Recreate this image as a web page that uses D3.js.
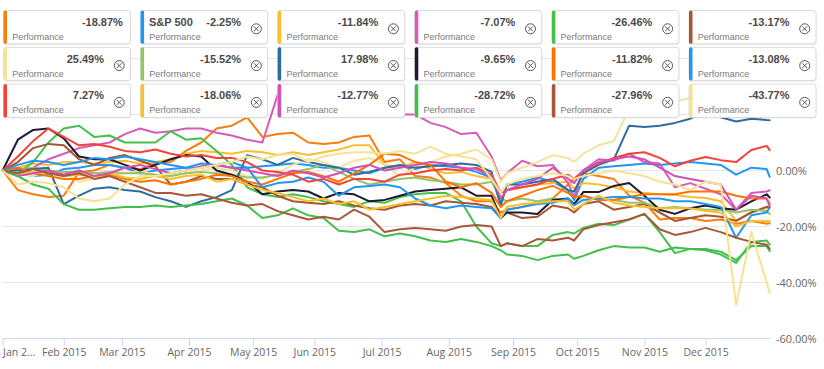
<!DOCTYPE html>
<html>
<head>
<meta charset="utf-8">
<script src="https://cdn.jsdelivr.net/npm/d3@7"></script>
<style>
body { margin: 0; background: #fff; }
svg { display: block; font-family: "Liberation Sans", Arial, sans-serif; }
</style>
</head>
<body>
<svg id="chart" width="824" height="369"></svg>
<script>
// trading day index of each sample (0 = Jan 2, 251 = Dec 31)
let days = [0,5,10,15,20,25,30,35,40,45,50,55,60,65,70,75,80,85,90,95,100,105,110,115,120,125,130,135,140,145,150,155,160,163,165,170,175,180,185,187,190,195,200,205,210,215,220,225,230,235,240,245,250,251]
let monthStarts = [0,20,39,61,82,102,124,146,167,188,210,230]
let monthLabels = ['Jan 2...','Feb 2015','Mar 2015','Apr 2015','May 2015','Jun 2015','Jul 2015','Aug 2015','Sep 2015','Oct 2015','Nov 2015','Dec 2015']
let gridTicks = [-40,-20,0,20,40]
let labelTicks = [-60,-40,-20,0]

// performance in %, one value per entry of days
let orange1 = [0,-7,-8.5,-9.5,-9,-0.5,0,2,1,0.5,2.5,3,7,10,15,16,19,12,13,13.5,10,9.5,10,12,12.5,3,4,-2,-2.5,-4.5,-9,-11,-11,-15,-14,-13,-11.5,-10,-5,-3,-1,-2,-3,-9,-11.5,-17.5,-17,-17,-18,-17.5,-19,-18,-19,-18.87]
let sp500 = [0,-1,-2,-1.5,0.5,1,2,2,1,-1,0,0.5,1,1,2,1,1,1.5,2,2.5,2,1,1,0,-1,1,1.5,0.5,2,1.5,1,-0.5,-2.5,-12,-5,-4,-2.5,-4,-7,-10.5,-3,1,1.5,2,2.5,2,2.5,3,2.5,2,-1.5,1,0.5,-2.25]
let amber1 = [0,1,2.5,2,3,3,2.5,3,3.5,2.5,3,4,6,7,6.5,6,7,6.5,5.5,6.5,5.5,6.5,7.5,9,9,2,1,3,0.5,-1,-0.5,-2,-3,-10,-7,-6,-5,-4.5,-4,-6.5,-4.5,-5,-6,-7.5,-8,-8.5,-8.75,-9.5,-9.8,-11,-18,-14.8,-13.4,-11.84]
let magenta1 = [0,-2,1,4,6,8,9,10,13,15,13.5,14,15,15,13.5,12.5,11,10,27,28,30,29,27,28,24,22,20,20,17,15.5,13,13.5,5,-3.5,-1,3.5,1.5,2,-4.5,-9.5,0,4,3.5,6,3,2.5,-6,-4.5,-6.5,-8.5,-14,-8,-7.5,-7.07]
let green1 = [0,-1,3,10,15,16,12,12.5,10,10,10,14,11,11.5,7,2,-6,-8.5,-9.5,-8.5,-9.5,-11,-12,-13,-11,-11.5,-9.5,-8.5,-8,-8,-11,-20,-26,-27,-26,-27,-27,-23,-22,-22.5,-20.5,-19,-19.5,-17.5,-15.5,-22,-29.5,-28,-28.5,-30,-33,-25.5,-25,-26.46]
let brown1 = [0,3,8,9.5,9,4,2,4.5,5.5,3.5,1.5,-5,-4,-2,-3,-3,-5,-6,-9,-11,-11.5,-12,-11,-12.5,-13.5,-14,-12.5,-12,-12.5,-11,-11.5,-12,-13,-17,-15,-17,-16.5,-12.5,-13.5,-15,-12,-11,-14,-13,-12,-15,-18,-17,-16,-16.5,-18,-15,-13,-13.17]
let paleYellow1 = [0,-1,-2,0,-1,-4,-3,-2,-1,0,-1.5,-2,-1,0,1,0,-2,-3,-1,2,4,3,1,3.5,4.5,2,-2,1,3,5,6,7.5,4,-4,-1,1,3,5.5,4.5,3,6,9,10.5,22,21,23,24.5,26,28,27,26,25,26,25.49]
let lightGreen = [0,0.5,1,0,-0.5,-0.5,-1,-0.5,-1,-1,-1.5,-2,-1,-0.5,-1,-1.5,-2.5,-2.5,-1.5,-0.5,0.5,2,-0.5,-3,-5,-4,-3,-2.5,-3.5,-4,-5,-5,-4,-10,-11,-10,-11,-10,-11,-12,-9,-10.5,-10.5,-11.5,-11.5,-13.5,-13,-13.5,-14,-14,-15,-14,-14.5,-15.52]
let darkBlue = [0,0,0.5,1,-12,-9,-6.5,-6,-7,-7.5,-9.5,-11,-13,-11,-9.5,-7,5.5,4,2,4.5,3,2,1,-1.5,-0.5,1,2,1,1.5,2,2.5,2,-0.5,-12.5,-5,-5,-4,-3,-7,-7.5,-1,2,4,16,15.5,16,17,18.5,21,19,17.5,18.5,18,17.98]
let black = [0,11,14.5,15,11.5,5,4,4,2,0,2,4,5.5,5,0,-1.5,-4,-8.5,-7.5,-7,-7.5,-10,-8,-8.5,-11,-10.5,-9,-7.5,-7,-6.5,-6,-9,-9,-17,-15,-15,-15.5,-10.5,-10,-12,-7.7,-7.7,-5.5,-4.5,-9,-14,-15.5,-13.5,-12.5,-13.5,-14,-11,-8.5,-9.65]
let orange2 = [0,1,-1,-2,-3,-3,-2,-1.5,-3,-4,-3.5,-5,-4,-3,-1.5,-2,-4,-5,-3,-1,-0.5,-2,-4,-1,2,6,5.5,3,2,-4,-6,-4.5,-8,-13,-11,-9,-7,-5.5,-8,-9.5,-9,-10.5,-10.5,-9.5,-8.5,-8.5,-8.5,-7.5,-7.5,-7.5,-9,-10,-10,-11.82]
let blue2 = [0,2,3.5,3,2,3,4.5,4,5,4,3,2,1,2.5,2,3,1,-6,-4.5,-4,-2.5,-4,-9,-6,-5.5,-5,-6,-10,-12.5,-13.5,-12.5,-13,-13.5,-17,-14,-13,-12,-11.5,-10,-12.5,-10.5,-10,-9.5,-9.5,-10,-10,-11,-11,-12,-13,-24,-16,-15,-13.08]
let red = [0,5,10.5,15,12,9,9.5,8.5,7,6.5,7.5,6,5,5.5,4.5,4.5,3,0,-0.5,-1.5,-4,-3,-5,-3,-3,-4,-1.5,-1,0,0.5,0,1,-1.5,-8,-7,-6,-5,-3,-1.5,-3,0,2.5,4.5,6,6.5,4.5,1.5,3.5,4.8,3.7,3,7.3,8.8,7.27]
let amber2 = [0,-1,-0.5,-1,-2,-1.5,-2,-1,-2.5,-3,-2,-3,-2,-1.5,-4,-3,-5,-7,-8,-9.5,-11,-10,-12,-11,-14,-13,-12,-11,-10,-9,-9.5,-10,-10.5,-17,-13,-12,-11.5,-11,-11,-14,-12,-9,-11.5,-12.5,-13,-13.5,-13.5,-13.5,-14.5,-15,-20,-18,-18,-18.06]
let magenta2 = [0,-2,-1,0,-1.5,0,-2,-1,1,2,0.5,-1,0,1.5,2,1,0,-1,-2,0,-1,-2.5,-1,1,2,0,1,2,3,2.5,1,0.5,-2,-10,-7,-5,-3,1,-3,-4.5,0,3,4,5,4,1,-2,-3,-4,-5,-14,-9,-10,-12.77]
let green2 = [0,-2,-5,-6.5,-12,-14,-14,-13.5,-13,-13,-12.5,-13,-12.5,-12,-11,-10,-12.5,-17,-16,-13.5,-16,-17,-21.5,-22,-21,-23.5,-22.5,-23.5,-25,-25.5,-24.5,-25.5,-27,-28.5,-30,-30.5,-32,-30.5,-30,-31.5,-30.5,-28.5,-27,-27.5,-27.5,-29,-27.5,-28,-28,-29,-32,-27,-27,-28.72]
let brown2 = [0,-1,0.5,-1,-2,-1,-3,-2,-4,-6,-8,-8,-9,-8.5,-10,-11.5,-12.5,-12,-14.5,-16,-17.5,-16.5,-17.5,-14,-16.5,-22,-21,-20.5,-21,-21.5,-20,-19.5,-20,-27,-26,-27,-24.5,-25,-24,-25,-21,-19.5,-18.5,-17.5,-15.5,-21,-23,-22,-20.5,-22,-24,-25.5,-26.5,-27.96]
let paleYellow2 = [0,-5,-4,-4.5,-6,-10,-11,-10,-5,-2,-2,-1,0,1,2,3,5,4,5.5,6,3,5,6,6.5,6.5,6,7,6,8.5,6,5,4,-3,-8,-5,-3,-2,-1,-2,-3,-2,-1,0,-1,-2,-4,-5,-7,-4,-5,-48,-22,-40,-43.77]

let seriesValues = [orange1, sp500, amber1, magenta1, green1, brown1, paleYellow1, lightGreen, darkBlue, black, orange2, blue2, red, amber2, magenta2, green2, brown2, paleYellow2]
let seriesNames = ['', 'S&P 500', '', '', '', '', '', '', '', '', '', '', '', '', '', '', '', '']
let seriesColors = ['#fb7d10','#2196f3','#fdbd2e','#d65cb7','#45c04d','#a5552f','#f6e39a','#92c46b','#2f6c9e','#1e1a33','#ff7200','#2196f3','#f44336','#fbbf2a','#d251b5','#41bf4b','#a8573a','#f5e394']

let x = d3.scaleLinear().domain([0, 251]).range([2.6, 769.7])
let y = d3.scaleLinear().domain([-60, 60]).range([338.5, 2.5])
let svg = d3.select('#chart')

svg.append('defs').append('clipPath')
    .attr('id', 'plot')
    .append('rect')
    .attr('x', 0)
    .attr('y', 0)
    .attr('width', 771)
    .attr('height', 338.5)

// grid lines
svg.append('g')
    .selectAll('line')
    .data(gridTicks)
    .join('line')
    .attr('x1', x(0))
    .attr('x2', x(251))
    .attr('y1', d => Math.floor(y(d)) + 0.5)
    .attr('y2', d => Math.floor(y(d)) + 0.5)
    .attr('stroke', '#e6e6e6')

// y axis labels on the right
let yAxis = svg.append('g')
    .attr('transform', 'translate(770,0)')
    .call(d3.axisRight(y).tickValues(labelTicks).tickSize(0).tickPadding(6).tickFormat(d => d.toFixed(2) + '%'))
yAxis.select('.domain').remove()
yAxis.selectAll('text')
    .attr('fill', '#666')
    .style('font-family', '"Open Sans", sans-serif')
    .style('font-size', '11px')

// x axis
let xAxis = svg.append('g')
    .attr('transform', 'translate(0,338)')
    .call(d3.axisBottom(x).tickValues(monthStarts).tickSize(8).tickSizeOuter(0).tickPadding(3).tickFormat((d, i) => monthLabels[i]))
xAxis.select('.domain').attr('stroke', '#ccd6eb')
xAxis.selectAll('.tick line').attr('stroke', '#ccd6eb')
xAxis.selectAll('text')
    .attr('fill', '#666')
    .style('font-family', '"Open Sans", sans-serif')
    .style('font-size', '10.5px')
xAxis.selectAll('.tick text')
    .filter((d, i) => i === 0)
    .attr('text-anchor', 'start')
    .attr('x', 0)

// series lines
let line = d3.line()
    .x((d, i) => x(days[i]))
    .y(d => y(d))
    .defined(d => d != null)

svg.append('g')
    .attr('clip-path', 'url(#plot)')
    .selectAll('path')
    .data(seriesValues)
    .join('path')
    .attr('d', d => line(d))
    .attr('fill', 'none')
    .attr('stroke', (d, i) => seriesColors[i])
    .attr('stroke-width', 2)
    .attr('stroke-linejoin', 'round')
    .attr('stroke-linecap', 'round')

// legend cards
let boxW = 127, boxH = 33.3
let cards = svg.append('g')
    .selectAll('g')
    .data(seriesValues)
    .join('g')
    .attr('transform', (d, i) => `translate(${3.5 + (i % 6) * 137.1},${10.5 + Math.floor(i / 6) * 36.8})`)

cards.append('rect')
    .attr('x', 0.5)
    .attr('y', 1.2)
    .attr('width', boxW)
    .attr('height', boxH)
    .attr('rx', 3)
    .attr('fill', 'rgba(0,0,0,0.07)')
cards.append('rect')
    .attr('width', boxW)
    .attr('height', boxH)
    .attr('rx', 3)
    .attr('fill', '#fff')
    .attr('stroke', '#dadada')
cards.append('rect')
    .attr('x', 0)
    .attr('y', 0)
    .attr('width', 3.5)
    .attr('height', boxH)
    .attr('rx', 1.5)
    .attr('fill', (d, i) => seriesColors[i])

cards.append('text')
    .attr('x', (d, i) => i === 0 ? 119.4 : 100.5)
    .attr('y', 15.3)
    .attr('text-anchor', 'end')
    .attr('fill', '#4a4a4a')
    .style('font-size', '11px')
    .style('font-weight', 'bold')
    .text(d => d[d.length - 1].toFixed(2) + '%')
cards.append('text')
    .attr('x', 8.4)
    .attr('y', 15.3)
    .attr('fill', '#4a4a4a')
    .style('font-size', '11px')
    .style('font-weight', 'bold')
    .text((d, i) => seriesNames[i])
cards.append('text')
    .attr('x', 8.7)
    .attr('y', 29.3)
    .attr('fill', '#7a7a7a')
    .style('font-size', '9px')
    .text('Performance')

let close = cards.filter((d, i) => i > 0)
    .append('g')
    .attr('transform', 'translate(115.7,18.3)')
close.append('circle')
    .attr('r', 5)
    .attr('fill', 'none')
    .attr('stroke', '#555')
    .attr('stroke-width', 1)
close.append('path')
    .attr('d', 'M-2.4,-2.4L2.4,2.4M2.4,-2.4L-2.4,2.4')
    .attr('stroke', '#555')
    .attr('stroke-width', 1)
</script>
</body>
</html>
